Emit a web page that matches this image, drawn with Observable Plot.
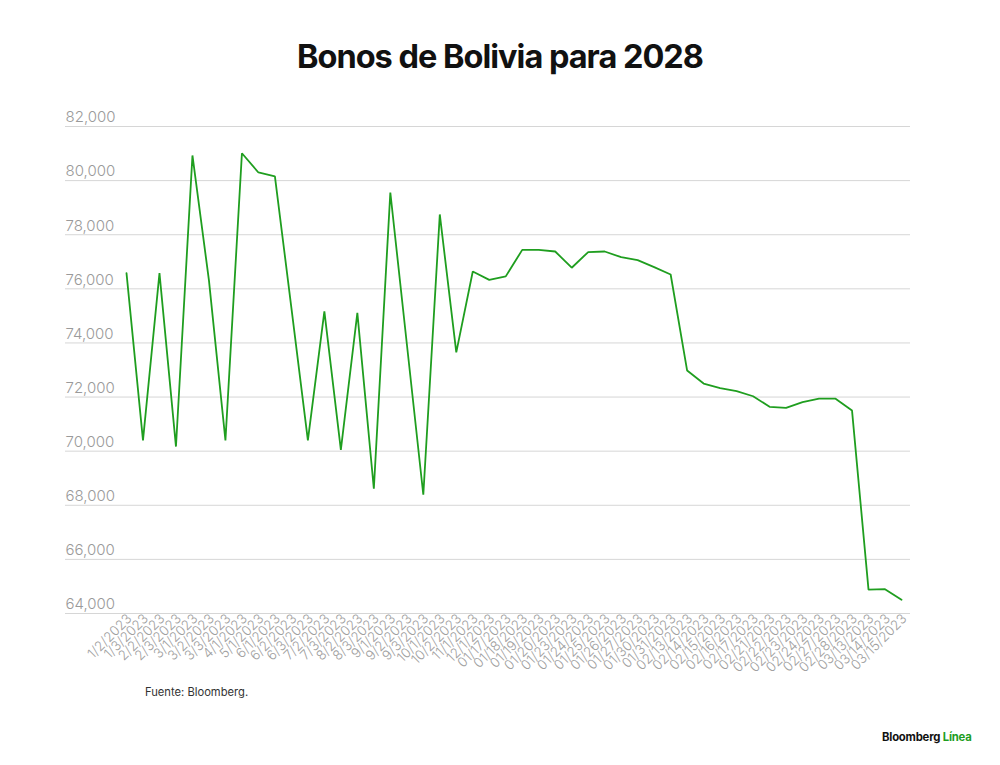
<!DOCTYPE html>
<html>
<head>
<meta charset="utf-8">
<script src="https://cdn.jsdelivr.net/npm/d3@7"></script>
<script src="https://cdn.jsdelivr.net/npm/@observablehq/plot@0.6"></script>
<style>
  html, body { margin: 0; padding: 0; background: #fff; }
  #wrap { position: relative; width: 1000px; height: 765px; overflow: hidden; font-family: Inter, "Helvetica Neue", Arial, sans-serif; }
  #title { position: absolute; top: 37px; left: 0; width: 1000px; text-align: center; font-size: 32.5px; font-weight: 700; letter-spacing: -1px; color: #111; }
  #chart { position: absolute; top: 90px; left: 0; }
  #source { position: absolute; top: 685px; left: 145px; font-size: 11.2px; color: #333; }
  #brand { position: absolute; top: 730px; left: 882px; font-size: 11.3px; font-weight: 700; color: #111; letter-spacing: -0.2px; }
  #brand span { color: #1f9e1f; }
</style>
</head>
<body>
<div id="wrap">
  <div id="title">Bonos de Bolivia para 2028</div>
  <div id="chart"></div>
  <div id="source">Fuente: Bloomberg.</div>
  <div id="brand">Bloomberg <span>Línea</span></div>
</div>
<script>
const dates = [
  "1/2/2023","1/3/2023","2/2/2023","2/3/2023","3/1/2023","3/2/2023","3/3/2023","4/1/2023",
  "5/1/2023","6/1/2023","6/2/2023","6/3/2023","7/2/2023","7/3/2023","8/2/2023","8/3/2023",
  "9/1/2023","9/2/2023","9/3/2023","10/1/2023","10/2/2023","11/1/2023","12/1/2023",
  "01/17/2023","01/18/2023","01/19/2023","01/20/2023","01/23/2023","01/24/2023","01/25/2023",
  "01/26/2023","01/27/2023","01/30/2023","01/31/2023","02/13/2023","02/14/2023","02/15/2023",
  "02/16/2023","02/17/2023","02/21/2023","02/22/2023","02/23/2023","02/24/2023","02/27/2023",
  "02/28/2023","03/13/2023","03/14/2023","03/15/2023"
];
const values = [
  76580, 70400, 76580, 70170, 80930, 76310, 70400, 81010,
  80300, 80160, 75300, 70400, 75170, 70050, 75110, 68610,
  79560, 73970, 68390, 78750, 73650, 76640, 76330,
  76460, 77440, 77440, 77380, 76780, 77360, 77380,
  77170, 77060, 76800, 76530, 72980, 72500, 72330,
  72220, 72030, 71640, 71600, 71810, 71940, 71940,
  71500, 64880, 64900, 64510
];
const yTicks = [64000, 66000, 68000, 70000, 72000, 74000, 76000, 78000, 80000, 82000];

const data = dates.map((d, i) => ({date: d, value: values[i]}));

const chart = Plot.plot({
  width: 1000,
  height: 610,
  marginTop: 36,
  marginBottom: 87,
  marginLeft: 65,
  marginRight: 90,
  style: {fontFamily: "Inter, 'Helvetica Neue', Arial, sans-serif", background: "transparent"},
  x: {type: "point", domain: dates, range: [126, 901], padding: 0, round: false, label: null},
  y: {domain: [64000, 82000], label: null},
  marks: [
    Plot.ruleY(yTicks, {stroke: "#d6d6d6", strokeWidth: 1}),
    Plot.text(yTicks, {
      y: d => d, frameAnchor: "left", text: d => d3.format(",")(d),
      textAnchor: "start", dy: -9, fontSize: 15, fill: "#9a9a9a", fontWeight: 300
    }),
    Plot.axisY({ticks: [], tickSize: 0, label: null}),
    Plot.axisX({
      tickSize: 0, tickPadding: 3, tickRotate: -45, fontSize: 13.5, color: "#a0a0a0",
      label: null, fontWeight: 300, dx: 3
    }),
    Plot.line(data, {x: "date", y: "value", stroke: "#1f9e1f", strokeWidth: 1.8, strokeLinejoin: "miter"})
  ]
});
document.getElementById("chart").appendChild(chart);
</script>
</body>
</html>
